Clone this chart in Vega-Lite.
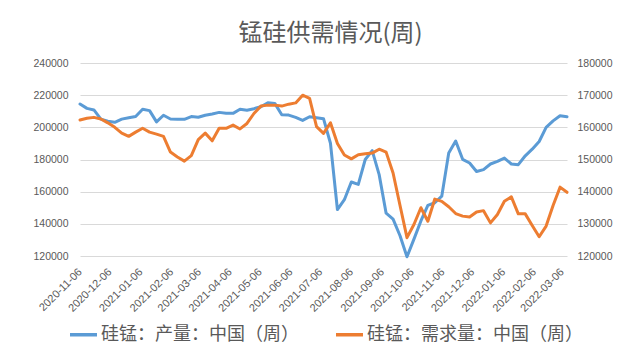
{
  "$schema": "https://vega.github.io/schema/vega-lite/v6.json",
  "autosize": {"type": "none"},
  "padding": {"left": 80, "top": 63, "right": 74, "bottom": 103},
  "width": 487,
  "height": 193,
  "background": "white",
  "title": {
    "text": "锰硅供需情况(周)",
    "font": "Noto Sans CJK SC",
    "fontSize": 24,
    "fontWeight": "normal",
    "color": "#595959",
    "anchor": "middle",
    "dx": 7,
    "offset": 12
  },
  "config": {
    "view": {"stroke": null},
    "axis": {"labelFont": "Liberation Sans", "labelColor": "#595959", "labelFontSize": 10.5}
  },
  "data": {
    "values": [
      {"date": "2020-11-06T00:00:00", "production": 214500, "demand": 162300},
      {"date": "2020-11-13T00:00:00", "production": 211800, "demand": 162800},
      {"date": "2020-11-20T00:00:00", "production": 210800, "demand": 163100},
      {"date": "2020-11-27T00:00:00", "production": 205100, "demand": 162600},
      {"date": "2020-12-04T00:00:00", "production": 203800, "demand": 161400},
      {"date": "2020-12-11T00:00:00", "production": 203100, "demand": 160000},
      {"date": "2020-12-18T00:00:00", "production": 205100, "demand": 158200},
      {"date": "2020-12-25T00:00:00", "production": 206000, "demand": 157200},
      {"date": "2021-01-01T00:00:00", "production": 206700, "demand": 158500},
      {"date": "2021-01-08T00:00:00", "production": 211200, "demand": 159700},
      {"date": "2021-01-15T00:00:00", "production": 210400, "demand": 158500},
      {"date": "2021-01-22T00:00:00", "production": 203400, "demand": 157900},
      {"date": "2021-01-29T00:00:00", "production": 207500, "demand": 157200},
      {"date": "2021-02-05T00:00:00", "production": 205200, "demand": 152300},
      {"date": "2021-02-12T00:00:00", "production": 205000, "demand": 150800},
      {"date": "2021-02-19T00:00:00", "production": 205000, "demand": 149500},
      {"date": "2021-02-26T00:00:00", "production": 206700, "demand": 151200},
      {"date": "2021-03-05T00:00:00", "production": 206300, "demand": 156200},
      {"date": "2021-03-12T00:00:00", "production": 207500, "demand": 158200},
      {"date": "2021-03-19T00:00:00", "production": 208300, "demand": 155800},
      {"date": "2021-03-26T00:00:00", "production": 209300, "demand": 159700},
      {"date": "2021-04-02T00:00:00", "production": 208700, "demand": 159700},
      {"date": "2021-04-09T00:00:00", "production": 208700, "demand": 160700},
      {"date": "2021-04-16T00:00:00", "production": 211200, "demand": 159500},
      {"date": "2021-04-23T00:00:00", "production": 210600, "demand": 161200},
      {"date": "2021-04-30T00:00:00", "production": 211600, "demand": 164300},
      {"date": "2021-05-07T00:00:00", "production": 212800, "demand": 166600},
      {"date": "2021-05-14T00:00:00", "production": 215300, "demand": 166900},
      {"date": "2021-05-21T00:00:00", "production": 214900, "demand": 166900},
      {"date": "2021-05-28T00:00:00", "production": 207800, "demand": 166600},
      {"date": "2021-06-04T00:00:00", "production": 207600, "demand": 167200},
      {"date": "2021-06-11T00:00:00", "production": 206200, "demand": 167600},
      {"date": "2021-06-18T00:00:00", "production": 204300, "demand": 170000},
      {"date": "2021-06-25T00:00:00", "production": 206600, "demand": 169000},
      {"date": "2021-07-02T00:00:00", "production": 206000, "demand": 160200},
      {"date": "2021-07-09T00:00:00", "production": 205400, "demand": 158100},
      {"date": "2021-07-16T00:00:00", "production": 190100, "demand": 161400},
      {"date": "2021-07-23T00:00:00", "production": 148900, "demand": 155000},
      {"date": "2021-07-30T00:00:00", "production": 155000, "demand": 151400},
      {"date": "2021-08-06T00:00:00", "production": 166000, "demand": 150200},
      {"date": "2021-08-13T00:00:00", "production": 164500, "demand": 151500},
      {"date": "2021-08-20T00:00:00", "production": 180000, "demand": 151800},
      {"date": "2021-08-27T00:00:00", "production": 185500, "demand": 152000},
      {"date": "2021-09-03T00:00:00", "production": 170600, "demand": 153200},
      {"date": "2021-09-10T00:00:00", "production": 146600, "demand": 152300},
      {"date": "2021-09-17T00:00:00", "production": 142900, "demand": 145800},
      {"date": "2021-09-24T00:00:00", "production": 132600, "demand": 135700},
      {"date": "2021-10-01T00:00:00", "production": 119500, "demand": 125700},
      {"date": "2021-10-08T00:00:00", "production": 130500, "demand": 129800},
      {"date": "2021-10-15T00:00:00", "production": 141800, "demand": 135000},
      {"date": "2021-10-22T00:00:00", "production": 151500, "demand": 130800},
      {"date": "2021-10-29T00:00:00", "production": 153100, "demand": 137700},
      {"date": "2021-11-05T00:00:00", "production": 157200, "demand": 137000},
      {"date": "2021-11-12T00:00:00", "production": 184000, "demand": 135300},
      {"date": "2021-11-19T00:00:00", "production": 191500, "demand": 133200},
      {"date": "2021-11-26T00:00:00", "production": 180100, "demand": 132400},
      {"date": "2021-12-03T00:00:00", "production": 177800, "demand": 132100},
      {"date": "2021-12-10T00:00:00", "production": 172500, "demand": 133700},
      {"date": "2021-12-17T00:00:00", "production": 173700, "demand": 134100},
      {"date": "2021-12-24T00:00:00", "production": 177200, "demand": 130300},
      {"date": "2021-12-31T00:00:00", "production": 178800, "demand": 132900},
      {"date": "2022-01-07T00:00:00", "production": 180900, "demand": 137000},
      {"date": "2022-01-14T00:00:00", "production": 177200, "demand": 138400},
      {"date": "2022-01-21T00:00:00", "production": 176800, "demand": 133100},
      {"date": "2022-01-28T00:00:00", "production": 182300, "demand": 133100},
      {"date": "2022-02-04T00:00:00", "production": 186400, "demand": 129500},
      {"date": "2022-02-11T00:00:00", "production": 191200, "demand": 126000},
      {"date": "2022-02-18T00:00:00", "production": 200000, "demand": 129300},
      {"date": "2022-02-25T00:00:00", "production": 204000, "demand": 135700},
      {"date": "2022-03-04T00:00:00", "production": 207200, "demand": 141400},
      {"date": "2022-03-11T00:00:00", "production": 206600, "demand": 139800}
    ]
  },
  "encoding": {
    "x": {
      "field": "date",
      "type": "temporal",
      "title": null,
      "scale": {
        "domain": [
          {"year": 2020, "month": 11, "date": 6},
          {"year": 2022, "month": 3, "date": 11}
        ]
      },
      "axis": {
        "values": [
          {"year": 2020, "month": 11, "date": 6},
          {"year": 2020, "month": 12, "date": 6},
          {"year": 2021, "month": 1, "date": 6},
          {"year": 2021, "month": 2, "date": 6},
          {"year": 2021, "month": 3, "date": 6},
          {"year": 2021, "month": 4, "date": 6},
          {"year": 2021, "month": 5, "date": 6},
          {"year": 2021, "month": 6, "date": 6},
          {"year": 2021, "month": 7, "date": 6},
          {"year": 2021, "month": 8, "date": 6},
          {"year": 2021, "month": 9, "date": 6},
          {"year": 2021, "month": 10, "date": 6},
          {"year": 2021, "month": 11, "date": 6},
          {"year": 2021, "month": 12, "date": 6},
          {"year": 2022, "month": 1, "date": 6},
          {"year": 2022, "month": 2, "date": 6},
          {"year": 2022, "month": 3, "date": 6}
        ],
        "format": "%Y-%m-%d",
        "labelAngle": -45,
        "labelAlign": "right",
        "labelBaseline": "middle",
        "labelPadding": 14,
        "labelFontSize": 11,
        "ticks": false,
        "domain": false,
        "grid": false,
        "labelOverlap": false,
        "labelBound": false,
        "labelFlush": false
      }
    }
  },
  "layer": [
    {
      "mark": {"type": "line", "strokeWidth": 3, "strokeJoin": "round", "strokeCap": "round"},
      "encoding": {
        "y": {
          "field": "production",
          "type": "quantitative",
          "title": null,
          "scale": {"domain": [120000, 240000], "nice": false, "zero": false},
          "axis": {
            "orient": "left",
            "values": [120000, 140000, 160000, 180000, 200000, 220000, 240000],
            "format": "d",
            "grid": true,
            "gridColor": "#d9d9d9",
            "gridWidth": 1,
            "domain": false,
            "ticks": false,
            "labelPadding": 12
          }
        },
        "color": {
          "datum": "硅锰：产量：中国（周）",
          "type": "nominal",
          "scale": {
            "domain": ["硅锰：产量：中国（周）", "硅锰：需求量：中国（周）"],
            "range": ["#5B9BD5", "#ED7D31"]
          },
          "legend": {
            "title": null,
            "orient": "none",
            "direction": "horizontal",
            "legendX": -12,
            "legendY": 256,
            "symbolType": "stroke",
            "symbolSize": 729,
            "symbolStrokeWidth": 3.5,
            "labelFont": "Noto Sans CJK SC",
            "labelFontSize": 18,
            "labelColor": "#595959",
            "labelOffset": 2,
            "labelLimit": 400,
            "columnPadding": 30
          }
        }
      }
    },
    {
      "mark": {"type": "line", "strokeWidth": 3, "strokeJoin": "round", "strokeCap": "round"},
      "encoding": {
        "y": {
          "field": "demand",
          "type": "quantitative",
          "title": null,
          "scale": {"domain": [120000, 180000], "nice": false, "zero": false},
          "axis": {
            "orient": "right",
            "values": [120000, 130000, 140000, 150000, 160000, 170000, 180000],
            "format": "d",
            "grid": false,
            "domain": false,
            "ticks": false,
            "labelPadding": 10
          }
        },
        "color": {"datum": "硅锰：需求量：中国（周）", "type": "nominal"}
      }
    }
  ],
  "resolve": {"scale": {"y": "independent"}}
}
